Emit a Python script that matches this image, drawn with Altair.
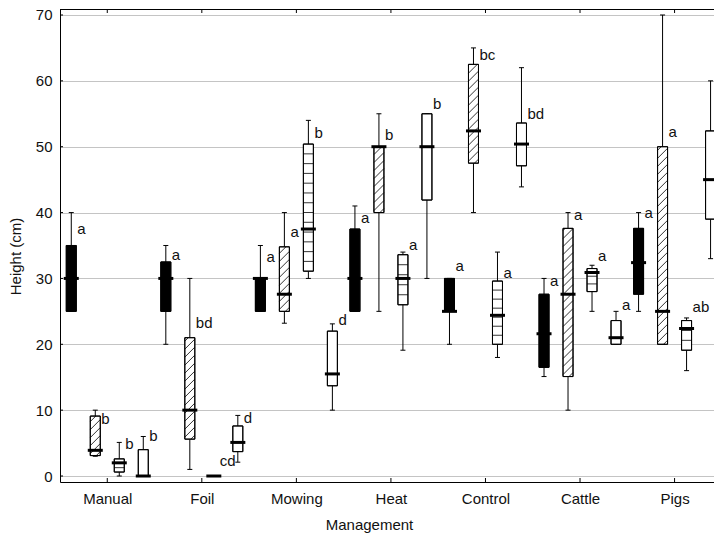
import json
import altair as alt
import pandas as pd

categories = ["Manual", "Foil", "Mowing", "Heat", "Control", "Cattle", "Pigs"]
styles = ["solid", "hatched", "lined", "open"]

# five-number summaries (cm) per style, one value per management category
solid_lo = [25, 20, 25, 25, 20, 15.1, 25]
solid_q1 = [25, 25, 25, 25, 25, 16.5, 27.6]
solid_med = [30, 30, 30, 30, 25, 21.6, 32.4]
solid_q3 = [35, 32.5, 30, 37.5, 30, 27.6, 37.6]
solid_hi = [40, 35, 35, 41, 30, 30, 40]

hatched_lo = [3, 1, 23.2, 25, 40, 10, 20]
hatched_q1 = [3.1, 5.6, 25, 40, 47.5, 15.1, 20]
hatched_med = [3.9, 10, 27.6, 50, 52.4, 27.6, 25]
hatched_q3 = [9.1, 21, 34.8, 50, 62.5, 37.6, 50]
hatched_hi = [10, 30, 40, 55, 65, 40, 70]

lined_lo = [0, 0, 30, 19.1, 18, 25, 16]
lined_q1 = [0.6, 0, 31.1, 26, 20, 28, 19.1]
lined_med = [2.0, 0, 37.5, 30, 24.4, 30.9, 22.4]
lined_q3 = [2.6, 0, 50.4, 33.6, 29.6, 31.5, 23.6]
lined_hi = [5.1, 0, 54, 34, 34, 32, 24]

open_lo = [0, 2.1, 10, 30, 43.9, 20, 33]
open_q1 = [0, 3.7, 13.7, 41.9, 47.1, 20, 39]
open_med = [0, 5.1, 15.5, 50, 50.4, 21, 45]
open_q3 = [4, 7.6, 22, 55, 53.6, 23.6, 52.4]
open_hi = [6, 9.2, 23.1, 55, 62, 25, 60]

# significance letters and their heights
solid_letters = ["a", "a", "a", "a", "a", "a", "a"]
solid_letter_y = [37.5, 33.6, 33.3, 39.1, 31.9, 29.6, 39.9]
hatched_letters = ["b", "bd", "a", "b", "bc", "a", "a"]
hatched_letter_y = [8.65, 23.3, 37.1, 51.8, 64, 39.6, 52.2]
lined_letters = ["b", "cd", "b", "a", "a", "a", "ab"]
lined_letter_y = [4.9, 2.3, 52.1, 35.1, 30.8, 33.4, 25.6]
open_letters = ["b", "d", "d", "b", "bd", "a", "ac"]
open_letter_y = [6.1, 8.8, 23.7, 56.5, 55, 26, 63.2]

y_ticks = [0, 10, 20, 30, 40, 50, 60, 70]

# ---------------- layout constants ----------------
W, H = 654, 473
XPX = 94.55          # px per category unit
YPX = 6.586          # px per cm
XD = [0.5, 0.5 + W / XPX]
YD = [-0.91, -0.91 + H / YPX]
BOX_HW = 5.0         # box half width px
CAP_HW = 2.5
MED_HW = 7.5
OFFSET_PX = 24.0     # spacing between boxes in a group

summ = {
    "solid": (solid_lo, solid_q1, solid_med, solid_q3, solid_hi, solid_letters, solid_letter_y),
    "hatched": (hatched_lo, hatched_q1, hatched_med, hatched_q3, hatched_hi, hatched_letters, hatched_letter_y),
    "lined": (lined_lo, lined_q1, lined_med, lined_q3, lined_hi, lined_letters, lined_letter_y),
    "open": (open_lo, open_q1, open_med, open_q3, open_hi, open_letters, open_letter_y),
}

rows = []
for ci, cat in enumerate(categories):
    for si, st in enumerate(styles):
        lo, q1, med, q3, hi, let, ly = summ[st]
        pos = ci + 1 + (si - 1.5) * OFFSET_PX / XPX
        rows.append(dict(
            cat=cat, style=st, pos=pos,
            lo=lo[ci], q1=q1[ci], med=med[ci], q3=q3[ci], hi=hi[ci],
            letter=let[ci], ly=ly[ci],
            bl=pos - BOX_HW / XPX, br=pos + BOX_HW / XPX,
            cl=pos - CAP_HW / XPX, cr=pos + CAP_HW / XPX,
            ml=pos - MED_HW / XPX, mr=pos + MED_HW / XPX,
            fill="black" if st == "solid" else "white",
        ))
df = pd.DataFrame(rows)

# hatch segments (45 degree "/") clipped to each hatched box
hrows = []
for r in rows:
    if r["style"] != "hatched":
        continue
    Y1, Y3 = r["q1"] * YPX, r["q3"] * YPX
    s = 8.0
    c = Y1 - BOX_HW + s / 2
    while c < Y3 + BOX_HW:
        xa = max(-BOX_HW, Y1 - c)
        xb = min(BOX_HW, Y3 - c)
        if xb - xa > 0.3:
            hrows.append(dict(x=r["pos"] + xa / XPX, x2=r["pos"] + xb / XPX,
                              y=(xa + c) / YPX, y2=(xb + c) / YPX))
        c += s
hatch_df = pd.DataFrame(hrows)

# horizontal lines for lined boxes
lrows = []
for r in rows:
    if r["style"] != "lined":
        continue
    h = (r["q3"] - r["q1"]) * YPX
    if h <= 0:
        continue
    n = max(3, round(h / 9.5))
    for i in range(1, n):
        lrows.append(dict(x=r["bl"], x2=r["br"], y=r["q1"] + i * (r["q3"] - r["q1"]) / n))
lined_df = pd.DataFrame(lrows)

cat_df = pd.DataFrame({"pos": list(range(1, len(categories) + 1))})
ytick_df = pd.DataFrame({"v": y_ticks})

xs = alt.Scale(domain=XD, nice=False, zero=False)
ys = alt.Scale(domain=YD, nice=False, zero=False)


def X(f, **kw):
    return alt.X(f, type="quantitative", scale=xs, **kw)


def Y(f, **kw):
    return alt.Y(f, type="quantitative", scale=ys, **kw)


label_expr = json.dumps(categories) + "[datum.value - 1]"

base = alt.Chart(df)

axes_layer = alt.Chart(cat_df).mark_point(opacity=0).encode(
    x=X("pos", axis=alt.Axis(values=list(range(1, 8)), labelExpr=label_expr, ticks=False,
                             grid=False, domain=True, domainColor="#000", labelPadding=9,
                             title="Management", titleX=309, titleY=42,
                             titleBaseline="middle")),
    y=alt.Y("pos", type="quantitative", scale=ys,
            axis=alt.Axis(values=y_ticks, ticks=False, grid=True, gridColor="#c4c4c4",
                          domain=True, domainColor="#000", labelPadding=8,
                          title="Height (cm)", titleX=-45, titleY=247,
                          titleBaseline="middle", titleAngle=270)),
)

whisk = base.mark_rule(color="black", strokeWidth=1).encode(
    x=X("pos"), y=Y("lo"), y2="hi")
cap_hi = base.mark_rule(color="black", strokeWidth=1).encode(
    x=X("cl"), x2="cr", y=Y("hi"))
cap_lo = base.mark_rule(color="black", strokeWidth=1).encode(
    x=X("cl"), x2="cr", y=Y("lo"))
box = base.mark_rect(stroke="black", strokeWidth=1).encode(
    x=X("bl"), x2="br", y=Y("q1"), y2="q3",
    fill=alt.Fill("fill:N", scale=None))
hatch = alt.Chart(hatch_df).mark_rule(color="black", strokeWidth=0.8).encode(
    x=X("x"), x2="x2", y=Y("y"), y2="y2")
lines = alt.Chart(lined_df).mark_rule(color="black", strokeWidth=0.8).encode(
    x=X("x"), x2="x2", y=Y("y"))
outline = base.mark_rect(stroke="black", strokeWidth=1, fillOpacity=0).encode(
    x=X("bl"), x2="br", y=Y("q1"), y2="q3")
median = base.mark_rule(color="black", strokeWidth=3).encode(
    x=X("ml"), x2="mr", y=Y("med"))
letters = base.mark_text(align="left", baseline="middle", dx=6, fontSize=15,
                         color="#111", font="Liberation Sans").encode(
    x=X("pos"), y=Y("ly"), text="letter:N")

top_frame = alt.Chart(cat_df).mark_rule(color="black", strokeWidth=1).encode(
    x=alt.value(0), x2=alt.value(W), y=alt.value(0.5))
top_ticks = alt.Chart(cat_df).mark_rule(color="black", strokeWidth=1).encode(
    x=X("pos"), y=alt.value(0), y2=alt.value(4))
bot_ticks = alt.Chart(cat_df).mark_rule(color="black", strokeWidth=1).encode(
    x=X("pos"), y=alt.value(H), y2=alt.value(H - 4))
left_ticks = alt.Chart(ytick_df).mark_rule(color="black", strokeWidth=1).encode(
    x=alt.value(0), x2=alt.value(3), y=Y("v"))

chart = alt.layer(
    axes_layer, whisk, cap_hi, cap_lo, box, hatch, lines, outline, median,
    letters, top_frame, top_ticks, bot_ticks, left_ticks,
).properties(
    width=W, height=H,
    autosize=alt.AutoSizeParams(type="none"),
    padding={"left": 52, "top": 1, "right": 0, "bottom": 56},
).configure_view(strokeWidth=0).configure_axis(
    labelFont="Liberation Sans", titleFont="Liberation Sans",
    labelFontSize=15, titleFontSize=15, titleFontWeight="normal",
    labelColor="#111", titleColor="#111",
)

chart.save("out.html", embed_options={"renderer": "svg", "actions": False})
